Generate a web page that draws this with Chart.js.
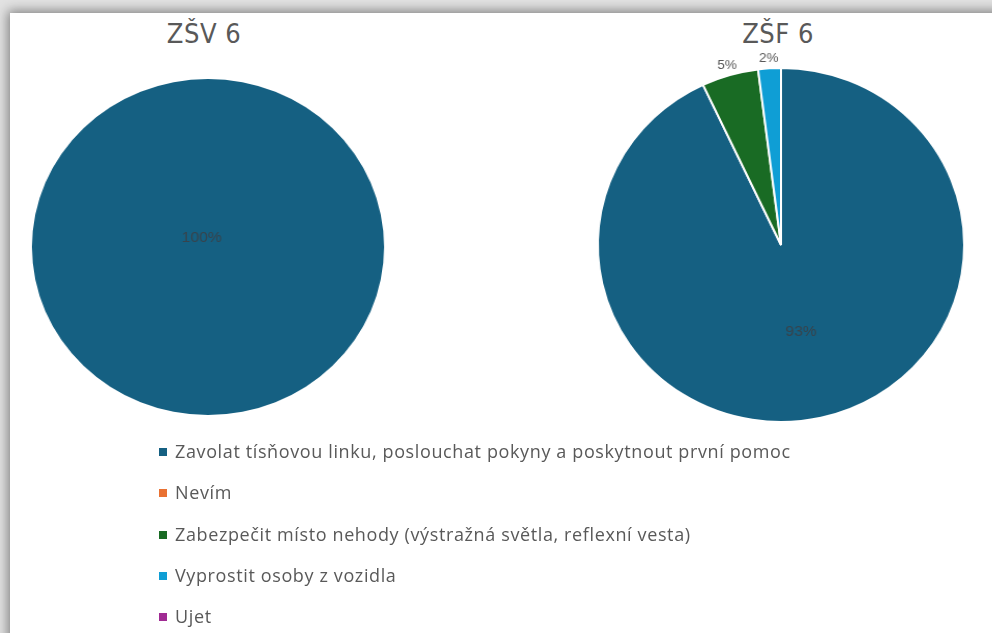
<!DOCTYPE html>
<html>
<head>
<meta charset="utf-8">
<script src="https://cdn.jsdelivr.net/npm/chart.js@4"></script>
<style>
  html, body { margin: 0; padding: 0; }
  body {
    width: 992px; height: 633px; overflow: hidden; position: relative;
    background: #e2e2e2;
    font-family: "Open Sans", Lato, sans-serif;
  }
  .card {
    position: absolute; left: 10px; top: 13px; width: 1100px; height: 800px;
    background: #fff;
    box-shadow: 0 0 11px 2px rgba(0, 0, 0, 0.45);
  }
  canvas { position: absolute; transform-origin: 50% 50%; }
  .title {
    position: absolute; width: 300px; text-align: center;
    font-family: "DejaVu Sans Condensed", "Liberation Sans Narrow", sans-serif;
    font-size: 27px; color: #595959; line-height: 30px; letter-spacing: 0.5px;
  }
  #legend { position: absolute; left: 159px; top: 431px; margin: 0; padding: 0; list-style: none; }
  #legend li { height: 41.3px; line-height: 41.3px; font-size: 18px; color: #595959; white-space: nowrap; letter-spacing: 0.62px; }
  #legend span.box { display: inline-block; width: 8px; height: 8px; margin-right: 8px; vertical-align: 2px; }
</style>
</head>
<body>
<div class="card"></div>
<div class="title" id="t1" style="left:54px; top:19px;"></div>
<div class="title" id="t2" style="left:628px; top:19px;"></div>
<canvas id="pieV" width="400" height="400" style="left:8px; top:47px; transform: scaleX(1.048);"></canvas>
<canvas id="pieF" width="400" height="400" style="left:581px; top:45px; transform: scaleX(1.035);"></canvas>
<ul id="legend"></ul>

<script>
// categories (answers) and colours
const categories = [
    'Zavolat tísňovou linku, poslouchat pokyny a poskytnout první pomoc',
    'Nevím',
    'Zabezpečit místo nehody (výstražná světla, reflexní vesta)',
    'Vyprostit osoby z vozidla',
    'Ujet'
];
const colors = ['#156082', '#E97132', '#196B24', '#0F9ED5', '#A02B93'];

// series values (%)
const titleV = 'ZŠV 6';
const valuesV = [100, 0, 0, 0, 0];
const titleF = 'ZŠF 6';
const valuesF = [93, 0, 5, 2, 0];

/**
 * percentage labels: big slices inside, small ones just outside the rim
 */
const pctLabels = {
    id: 'pctLabels',
    afterDatasetsDraw(chart) {
        const ctx = chart.ctx;
        const data = chart.data.datasets[0].data;
        const total = data.reduce((a, b) => a + b, 0);
        const meta = chart.getDatasetMeta(0);
        ctx.save();
        ctx.textAlign = 'center';
        ctx.textBaseline = 'middle';
        meta.data.forEach((arc, i) => {
            const v = data[i];
            if (!v) return;
            const pct = Math.round(v / total * 100);
            const p = arc.getProps(['x', 'y', 'startAngle', 'endAngle', 'outerRadius'], true);
            let x, y;
            if (pct >= 100) {
                x = p.x - 6; y = p.y - 9;
                ctx.font = '15px "Liberation Sans", Arial, sans-serif';
                ctx.fillStyle = '#37444d';
            } else if (pct >= 10) {
                const c = arc.getCenterPoint(true);
                x = c.x; y = c.y;
                ctx.font = '15px "Liberation Sans", Arial, sans-serif';
                ctx.fillStyle = '#37444d';
            } else {
                const mid = (p.startAngle + p.endAngle) / 2;
                const r = p.outerRadius + 10;
                x = p.x + Math.cos(mid) * r;
                y = p.y + Math.sin(mid) * r;
                ctx.font = '13px "Liberation Sans", Arial, sans-serif';
                ctx.fillStyle = '#595959';
            }
            ctx.fillText(pct + '%', x, y);
        });
        ctx.restore();
    }
};

function makePie(id, values, pad, border) {
    return new Chart(document.getElementById(id), {
        type: 'pie',
        data: {
            labels: categories,
            datasets: [{
                data: values,
                backgroundColor: colors,
                borderColor: '#ffffff',
                borderWidth: border
            }]
        },
        options: {
            responsive: false,
            animation: false,
            layout: { padding: pad },
            plugins: {
                legend: { display: false },
                tooltip: { enabled: false }
            }
        },
        plugins: [pctLabels]
    });
}

document.getElementById('t1').innerText = titleV;
document.getElementById('t2').innerText = titleF;

makePie('pieV', valuesV, 32, 0);
makePie('pieF', valuesF, 22, 2);

// shared legend below both pies
const legend = document.getElementById('legend');
legend.innerHTML = categories.map((c, i) =>
    `<li><span class="box" style="background:${colors[i]}"></span>${c}</li>`).join('');
</script>
</body>
</html>
